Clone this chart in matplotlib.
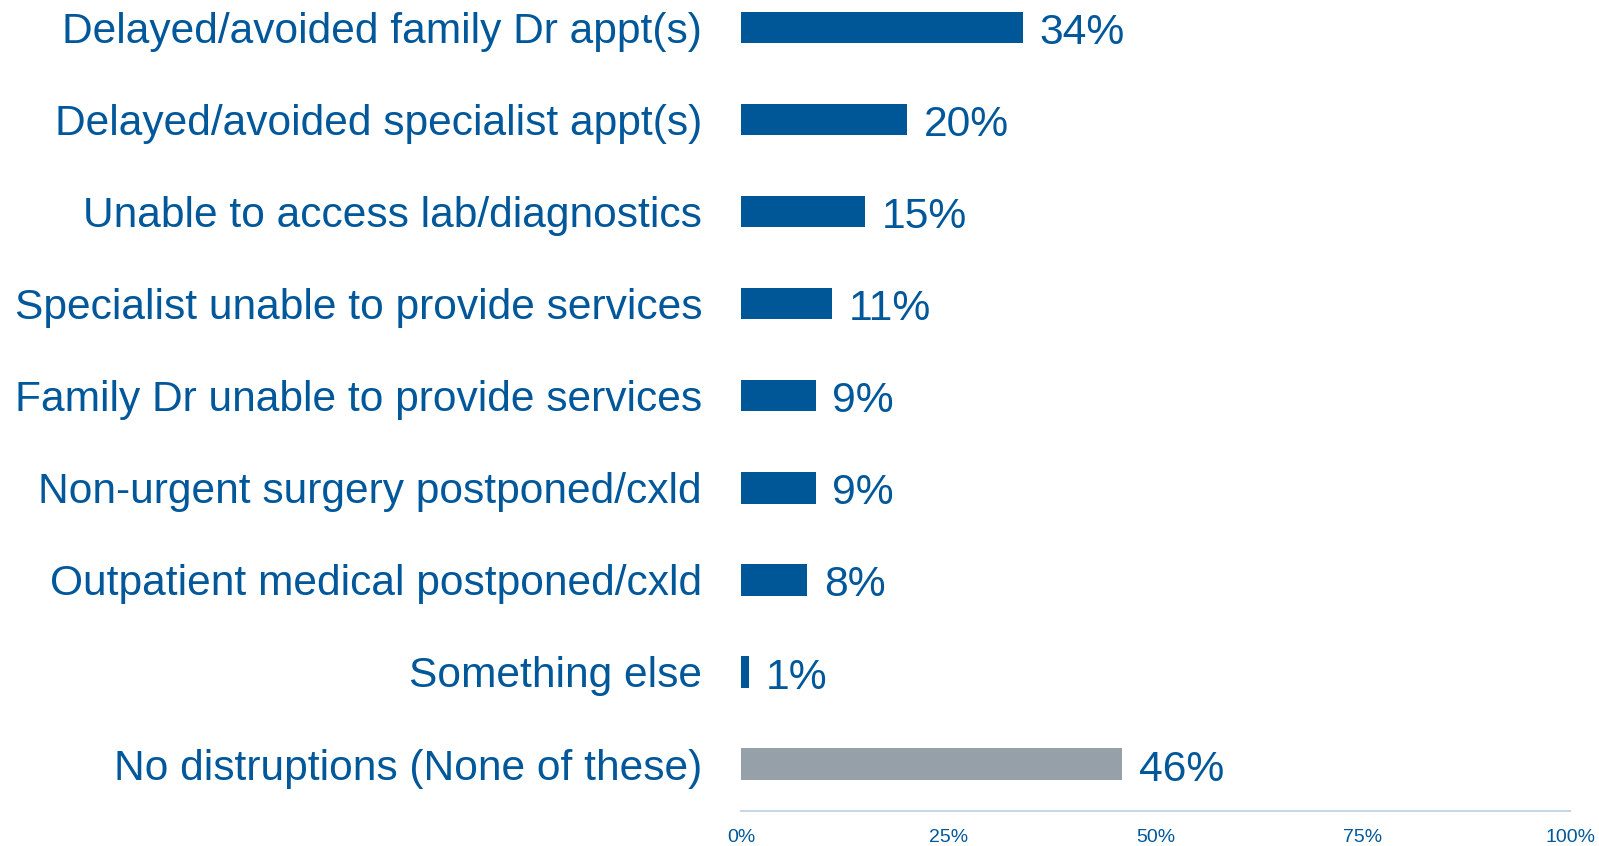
import matplotlib
matplotlib.use("Agg")
import matplotlib.pyplot as plt
from matplotlib.ticker import FuncFormatter

categories = [
    "Delayed/avoided family Dr appt(s)",
    "Delayed/avoided specialist appt(s)",
    "Unable to access lab/diagnostics",
    "Specialist unable to provide services",
    "Family Dr unable to provide services",
    "Non-urgent surgery postponed/cxld",
    "Outpatient medical postponed/cxld",
    "Something else",
    "No distruptions (None of these)",
]
values = [34, 20, 15, 11, 9, 9, 8, 1, 46]
xticks = [0, 25, 50, 75, 100]

BLUE = "#005797"
GREY = "#96a0a9"
TEXT = "#00579a"
AXIS = "#c9d6e8"

plt.rcParams["font.family"] = ["Liberation Sans", "DejaVu Sans"]

fig = plt.figure(figsize=(15.99, 8.46), dpi=100)
ax = fig.add_axes([741 / 1599, 35 / 846, (1570 - 741) / 1599, 1 - 35 / 846])

colors = [BLUE] * (len(values) - 1) + [GREY]
y = list(range(len(categories)))
ax.barh(y, values, height=0.34, color=colors)

for yi, v in zip(y, values):
    ax.annotate(f"{v}%", (v, yi), xytext=(12, -4), textcoords="offset points",
                va="center", ha="left", fontsize=30.7, color=TEXT)

ax.set_xlim(0, 100)
ax.set_ylim(8.51, -0.30)
ax.set_yticks(y)
ax.set_yticklabels(categories, fontsize=30.6, color=TEXT)
ax.set_xticks(xticks)
ax.xaxis.set_major_formatter(FuncFormatter(lambda v, p: f"{int(v)}%"))
ax.tick_params(axis="x", length=0, pad=13, labelsize=14, labelcolor=TEXT)
ax.tick_params(axis="y", length=0, pad=28)

for s in ["top", "right", "left"]:
    ax.spines[s].set_visible(False)
ax.spines["bottom"].set_color(AXIS)
ax.spines["bottom"].set_linewidth(1.5)

fig.savefig("out.png", dpi=100)
